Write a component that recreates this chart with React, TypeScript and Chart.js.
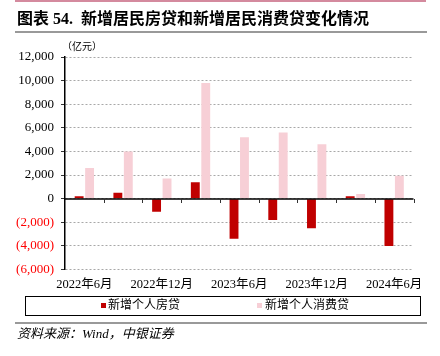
import React, { useEffect, useRef } from 'react';
import { Chart, registerables } from 'chart.js';

Chart.register(...registerables);

const categories = ['2022年6月', '2022年9月', '2022年12月', '2023年3月', '2023年6月', '2023年9月', '2023年12月', '2024年3月', '2024年6月'];
const mortgageValues = [200, 500, -1100, 1400, -3400, -1800, -2500, 200, -4000];
const consumerValues = [2600, 4000, 1700, 9800, 5200, 5600, 4600, 400, 1950];
const seriesNames = ['新增个人房贷', '新增个人消费贷'];
const yMin = -6000;
const yMax = 12000;
const yStep = 2000;

const SERIF = '"Liberation Serif", "Noto Sans CJK SC", serif';
const RED = '#c00000';
const PINK = '#f7cfd6';

const fmt = (v: number) => {
  const s = Math.abs(v).toLocaleString('en-US');
  return v < 0 ? `(${s})` : s;
};

const zeroLinePlugin = {
  id: 'zeroLine',
  afterDatasetsDraw(chart: any) {
    const { ctx, chartArea, scales } = chart;
    const x = scales.x;
    const y = scales.y;
    const y0 = Math.round(y.getPixelForValue(0));
    ctx.save();
    ctx.strokeStyle = '#000';
    ctx.lineWidth = 1.5;
    ctx.beginPath();
    ctx.moveTo(chartArea.left, y0);
    ctx.lineTo(chartArea.right, y0);
    ctx.stroke();
    ctx.strokeStyle = '#333';
    ctx.lineWidth = 1;
    for (let i = 0; i < categories.length; i++) {
      const px = Math.round(x.getPixelForValue(i + 0.5)) + 0.5;
      ctx.beginPath();
      ctx.moveTo(px, y0);
      ctx.lineTo(px, y0 + 4);
      ctx.stroke();
    }
    ctx.restore();
  },
};

export default function App() {
  const ref = useRef<HTMLCanvasElement>(null);

  useEffect(() => {
    if (!ref.current) return;
    const chart = new Chart(ref.current, {
      type: 'bar',
      data: {
        labels: categories,
        datasets: [
          { label: seriesNames[0], data: mortgageValues, backgroundColor: RED, borderWidth: 0 },
          { label: seriesNames[1], data: consumerValues, backgroundColor: PINK, borderWidth: 0 },
        ],
      },
      options: {
        responsive: false,
        animation: false,
        devicePixelRatio: 1,
        layout: { padding: { left: 8, right: 26.5, top: 57, bottom: 64.5 } },
        datasets: { bar: { categoryPercentage: 0.54, barPercentage: 0.85 } },
        plugins: { legend: { display: false }, tooltip: { enabled: false }, title: { display: false } },
        scales: {
          x: {
            grid: { display: false, drawTicks: false },
            border: { display: false },
            ticks: {
              autoSkip: false,
              maxRotation: 0,
              minRotation: 0,
              padding: 8,
              color: '#000',
              font: { family: SERIF, size: 12.5 },
              callback: (_v: any, i: number) => (i % 2 === 0 ? categories[i] : ''),
            },
            afterFit: (s: any) => { s.height = 22; },
          },
          y: {
            min: yMin,
            max: yMax,
            ticks: {
              stepSize: yStep,
              padding: 7,
              color: (c: any) => (c.tick && c.tick.value < 0 ? '#ff0000' : '#000'),
              font: { family: SERIF, size: 13 },
              callback: (v: any) => fmt(Number(v)),
            },
            grid: {
              color: '#a8a8a8',
              lineWidth: 1,
              drawTicks: true,
              tickLength: 4,
              tickColor: '#333',
              tickBorderDash: [],
            },
            border: { display: true, color: '#000', width: 1.5, dash: [2, 2] },
            afterFit: (s: any) => { s.width = 57; },
          },
        },
      },
      plugins: [zeroLinePlugin],
    } as any);
    return () => chart.destroy();
  }, []);

  const abs = (o: React.CSSProperties): React.CSSProperties => ({ position: 'absolute', ...o });

  return (
    <div style={{ position: 'absolute', left: 0, top: 0, width: 440, height: 356, background: '#fff', overflow: 'hidden', fontFamily: SERIF }}>
      <canvas ref={ref} width={440} height={356} style={{ position: 'absolute', left: 0, top: 0, width: 440, height: 356 }} />
      <div style={abs({ left: 15, top: 0, width: 411, height: 1.5, background: '#d48a9e' })} />
      <div style={abs({ left: 17, top: 10, fontSize: 16, lineHeight: '18px', fontWeight: 'bold', whiteSpace: 'pre', color: '#000' })}>
        {'图表 54.  新增居民房贷和新增居民消费贷变化情况'}
      </div>
      <div style={abs({ left: 15, top: 30.5, width: 412, height: 2, background: '#999' })} />
      <div style={abs({ left: 62, top: 41, fontSize: 10, lineHeight: '12px', color: '#000', whiteSpace: 'pre' })}>（亿元）</div>
      <div style={abs({ left: 25, top: 295.5, width: 394, height: 18, border: '1.2px solid #000' })} />
      <div style={abs({ left: 101, top: 303, width: 5, height: 5, background: RED })} />
      <div style={abs({ left: 108, top: 298, fontSize: 12, lineHeight: '14px', whiteSpace: 'pre' })}>{seriesNames[0]}</div>
      <div style={abs({ left: 257, top: 303, width: 5, height: 5, background: PINK })} />
      <div style={abs({ left: 265, top: 298, fontSize: 12, lineHeight: '14px', whiteSpace: 'pre' })}>{seriesNames[1]}</div>
      <div style={abs({ left: 15, top: 322, width: 412, height: 2, background: '#999' })} />
      <div style={abs({ left: 17, top: 326, fontSize: 13, lineHeight: '15px', fontStyle: 'italic', whiteSpace: 'pre' })}>资料来源：Wind，中银证券</div>
    </div>
  );
}
